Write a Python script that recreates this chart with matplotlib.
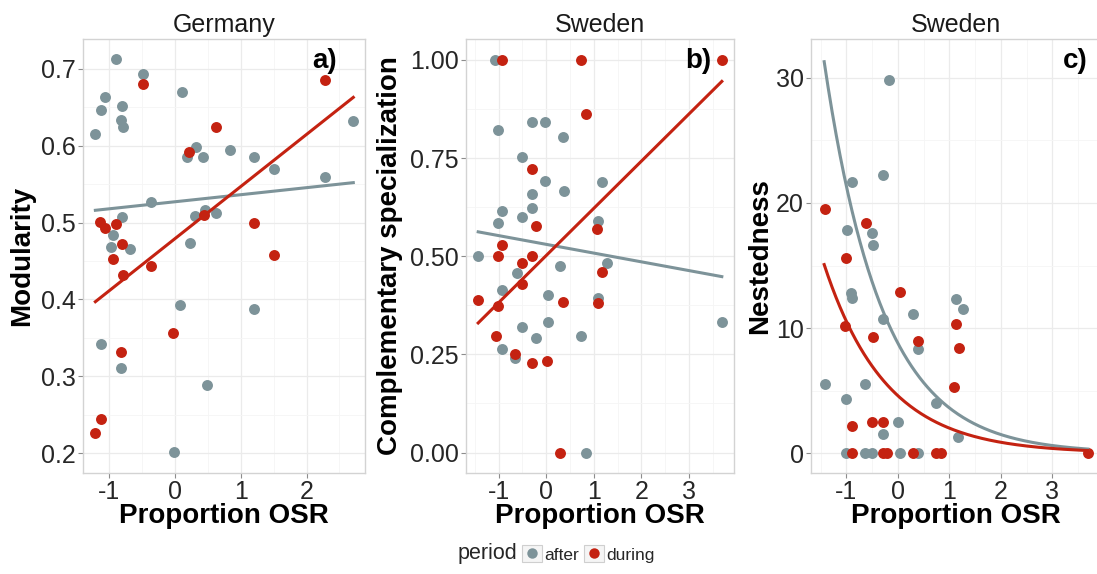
import numpy as np
import matplotlib
matplotlib.use('Agg')
import matplotlib.pyplot as plt
from matplotlib.ticker import MultipleLocator, FixedLocator
from matplotlib.patches import Rectangle
from matplotlib.lines import Line2D
from matplotlib.legend_handler import HandlerTuple

plt.rcParams['font.family'] = ['Liberation Sans', 'DejaVu Sans']
plt.rcParams['axes.unicode_minus'] = False

GREY = '#7d9399'
RED = '#c42211'

# panel a) Germany - modularity
a_after_x = [-1.21, -1.12, -1.07, -0.89, -0.80, -0.82, -0.79, -0.48, 0.10, 0.18, 0.32, 0.43, 0.83, 1.20, 1.50, 2.28,
             2.71, -0.37, -0.80, -0.94, -0.97, -0.68, 0.31, 0.46, 0.63, 0.23, 0.08, 1.20, -1.13, -0.82, 0.49, -0.02]
a_after_y = [0.615, 0.647, 0.663, 0.713, 0.652, 0.633, 0.624, 0.693, 0.670, 0.586, 0.598, 0.585, 0.595, 0.585, 0.570, 0.559,
             0.632, 0.527, 0.507, 0.484, 0.468, 0.465, 0.509, 0.516, 0.512, 0.473, 0.393, 0.388, 0.342, 0.311, 0.288, 0.201]
a_during_x = [-0.48, 2.28, 0.63, 0.22, -1.14, -1.07, -0.89, -0.94, -0.80, -0.79, -0.37, 0.44, 1.20, 1.50, -0.03, -0.82, -1.12, -1.21]
a_during_y = [0.680, 0.686, 0.625, 0.592, 0.501, 0.493, 0.498, 0.453, 0.472, 0.432, 0.444, 0.510, 0.500, 0.458, 0.356, 0.332, 0.244, 0.226]
a_fit_x = [-1.21, 2.71]
a_fit_after = [0.516, 0.552]
a_fit_during = [0.397, 0.663]

# panel b) Sweden - complementary specialization
b_after_x = [-1.07, -1.01, -0.30, -0.02, 0.36, -0.50, -0.02, 0.38, 1.17, -0.29, -0.30, -0.92, -1.01, -0.50, 1.08, -1.43,
             0.28, 1.28, -0.62, -0.92, 0.03, 1.09, -0.51, 0.03, -0.21, 0.73, -0.92, -0.65, 3.69, 0.83]
b_after_y = [1.0, 0.822, 0.841, 0.841, 0.803, 0.752, 0.692, 0.667, 0.690, 0.658, 0.622, 0.616, 0.585, 0.599, 0.590, 0.500,
             0.476, 0.482, 0.458, 0.414, 0.401, 0.393, 0.320, 0.333, 0.291, 0.297, 0.263, 0.240, 0.333, 0.0]
b_during_x = [-0.92, 0.73, 3.69, 0.83, -0.29, -0.21, 1.07, -0.92, -1.01, -0.51, -0.29, -0.51, 1.17, -1.43, -1.01, 0.36,
              1.09, -1.05, -0.65, -0.30, 0.01, 0.28]
b_during_y = [1.0, 1.0, 1.0, 0.862, 0.721, 0.578, 0.568, 0.528, 0.500, 0.482, 0.500, 0.429, 0.460, 0.388, 0.373, 0.384,
              0.381, 0.297, 0.251, 0.229, 0.234, 0.0]
b_fit_x = [-1.43, 3.69]
b_fit_after = [0.562, 0.448]
b_fit_during = [0.330, 0.945]

# panel c) Sweden - nestedness
c_after_x = [-0.18, -0.28, -0.89, -0.99, -0.50, -0.48, -0.90, -0.89, 1.13, 1.26, 0.29, -0.29, 0.39, -1.41, -0.63, -1.00,
             0.75, 0.00, -0.29, 1.17, -1.00, -0.63, -0.50, 0.05, 0.39]
c_after_y = [29.8, 22.2, 21.7, 17.8, 17.6, 16.6, 12.8, 12.4, 12.3, 11.5, 11.1, 10.7, 8.3, 5.5, 5.5, 4.3,
             4.0, 2.5, 1.5, 1.3, 0, 0, 0, 0, 0]
c_during_x = [-1.41, -0.62, -1.00, 0.05, -1.02, 1.13, -0.49, 0.39, 1.19, 1.10, -0.50, -0.29, -0.89,
              -0.89, -0.29, -0.21, 0.29, 0.74, 0.84, 3.69]
c_during_y = [19.5, 18.4, 15.6, 12.9, 10.2, 10.3, 9.3, 9.0, 8.4, 5.3, 2.5, 2.5, 2.2,
              0, 0, 0, 0, 0, 0, 0]
c_fit_range = [-1.43, 3.69]
c_fit_after = [8.8, -0.887]   # a * exp(b * x)
c_fit_during = [4.6, -0.83]

W, H = 1097, 574
fig = plt.figure(figsize=(W / 100, H / 100), dpi=100)

def make_axes(left, right):
    return fig.add_axes([left / W, (H - 473) / H, (right - left) / W, (473 - 39) / H])

def style(ax, title, ylabel, tag, tag_x, ylabel_x):
    ax.set_title(title, fontsize=18, color='#1a1a1a', pad=5)
    ax.set_ylabel(ylabel, fontsize=20, fontweight='bold', color='black')
    ax.set_xlabel('Proportion OSR', fontsize=20, fontweight='bold', color='black', labelpad=-1)
    ax.yaxis.set_label_coords(ylabel_x, 0.5)
    ax.text(tag_x, 0.95, tag, transform=ax.transAxes, fontsize=20, fontweight='bold', ha='center', va='center')
    ax.grid(which='major', color='#ebebeb', lw=0.9)
    ax.grid(which='minor', color='#f5f5f5', lw=0.6)
    ax.set_axisbelow(True)
    for s in ax.spines.values():
        s.set_color('#d3d3d3')
        s.set_linewidth(1.0)
    ax.tick_params(which='major', length=3.5, width=0.8, color='#8c8c8c', labelsize=18, labelcolor='#262626', pad=1.5)
    ax.tick_params(which='minor', length=0)

# a)
ax1 = make_axes(83, 365)
ax1.scatter(a_after_x, a_after_y, s=62, color=GREY, linewidths=0, zorder=3)
ax1.scatter(a_during_x, a_during_y, s=62, color=RED, linewidths=0, zorder=3)
ax1.plot(a_fit_x, a_fit_after, color=GREY, lw=2.2, zorder=4)
ax1.plot(a_fit_x, a_fit_during, color=RED, lw=2.2, zorder=4)
ax1.set_xlim(-1.398, 2.888)
ax1.set_ylim(0.174, 0.739)
ax1.xaxis.set_major_locator(FixedLocator([-1, 0, 1, 2]))
ax1.xaxis.set_minor_locator(FixedLocator([-0.5, 0.5, 1.5, 2.5]))
ax1.yaxis.set_minor_locator(MultipleLocator(0.05))
ax1.set_yticks([0.2, 0.3, 0.4, 0.5, 0.6, 0.7])
ax1.set_yticklabels(['0.2', '0.3', '0.4', '0.5', '0.6', '0.7'])
style(ax1, 'Germany', 'Modularity', 'a)', 0.858, -0.17)

# b)
ax2 = make_axes(466, 734)
ax2.scatter(b_after_x, b_after_y, s=62, color=GREY, linewidths=0, zorder=3)
ax2.scatter(b_during_x, b_during_y, s=62, color=RED, linewidths=0, zorder=3)
ax2.plot(b_fit_x, b_fit_after, color=GREY, lw=2.2, zorder=4)
ax2.plot(b_fit_x, b_fit_during, color=RED, lw=2.2, zorder=4)
ax2.set_xlim(-1.686, 3.946)
ax2.set_ylim(-0.052, 1.053)
ax2.xaxis.set_major_locator(FixedLocator([-1, 0, 1, 2, 3]))
ax2.xaxis.set_minor_locator(FixedLocator([-1.5, -0.5, 0.5, 1.5, 2.5, 3.5]))
ax2.set_yticks([0, 0.25, 0.5, 0.75, 1.0])
ax2.set_yticklabels(['0.00', '0.25', '0.50', '0.75', '1.00'])
ax2.yaxis.set_minor_locator(FixedLocator([0.125, 0.375, 0.625, 0.875]))
style(ax2, 'Sweden', 'Complementary specialization', 'b)', 0.867, -0.235)

# c)
ax3 = make_axes(811, 1101)
ax3.scatter(c_after_x, c_after_y, s=62, color=GREY, linewidths=0, zorder=3)
ax3.scatter(c_during_x, c_during_y, s=62, color=RED, linewidths=0, zorder=3)
xs = np.linspace(c_fit_range[0], c_fit_range[1], 200)
ax3.plot(xs, c_fit_after[0] * np.exp(c_fit_after[1] * xs), color=GREY, lw=2.2, zorder=4)
ax3.plot(xs, c_fit_during[0] * np.exp(c_fit_during[1] * xs), color=RED, lw=2.2, zorder=4)
ax3.set_xlim(-1.686, 3.946)
ax3.set_ylim(-1.58, 33.1)
ax3.xaxis.set_major_locator(FixedLocator([-1, 0, 1, 2, 3]))
ax3.xaxis.set_minor_locator(FixedLocator([-1.5, -0.5, 0.5, 1.5, 2.5, 3.5]))
ax3.yaxis.set_major_locator(FixedLocator([0, 10, 20, 30]))
ax3.yaxis.set_minor_locator(FixedLocator([5, 15, 25]))
style(ax3, 'Sweden', 'Nestedness', 'c)', 0.91, -0.13)

# legend
fig.text(458 / W, 1 - 554 / H, 'period', fontsize=15.5, color='#262626', ha='left', va='center')
key_box = Rectangle((0, 0), 1, 1, facecolor='#f5f5f5', edgecolor='#cfcfcf', lw=0.8)
dot_after = Line2D([], [], ls='none', marker='o', ms=7.5, color=GREY, mec='none')
dot_during = Line2D([], [], ls='none', marker='o', ms=7.5, color=RED, mec='none')
fig.legend([(key_box, dot_after), (key_box, dot_during)], ['after', 'during'],
           handler_map={tuple: HandlerTuple(ndivide=1)},
           ncol=2, loc='center left', bbox_to_anchor=(522 / W, 1 - 554 / H),
           frameon=False, fontsize=12.5, handlelength=1.15, handleheight=1.15,
           handletextpad=0.15, columnspacing=0.25, borderpad=0, borderaxespad=0,
           labelcolor='#262626')

plt.savefig('out.png', dpi=100)
